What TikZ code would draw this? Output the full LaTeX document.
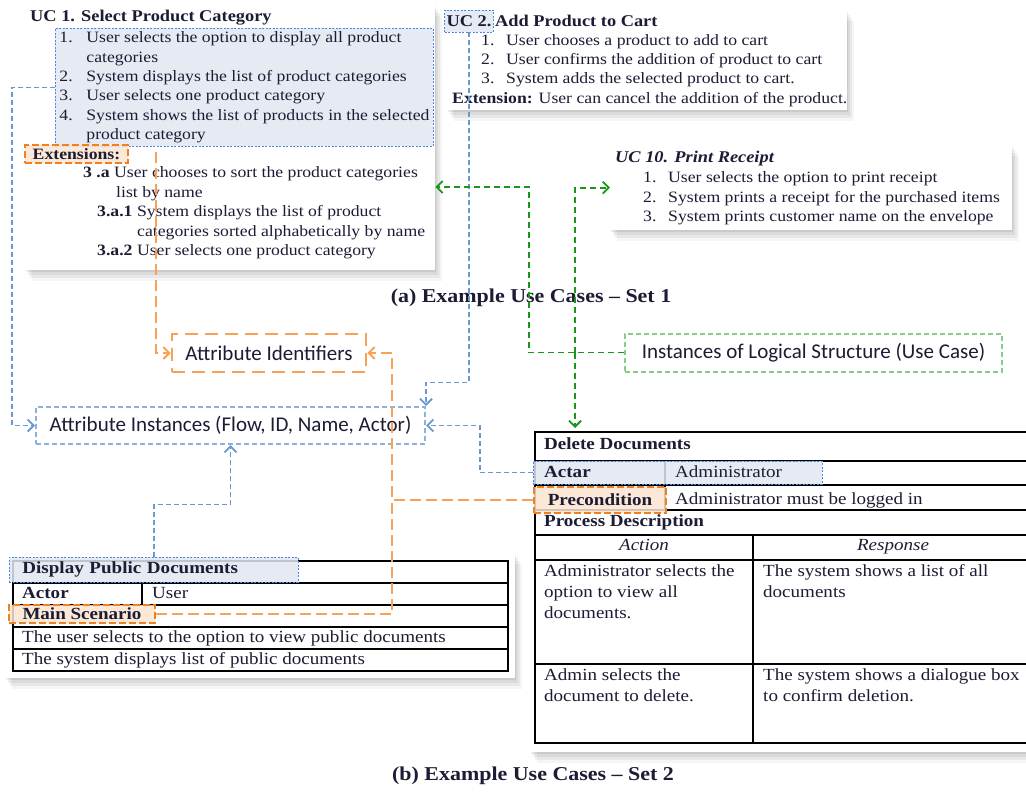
\documentclass[tikz,border=0pt]{standalone}
\usepackage{fontspec}
\setmainfont{Liberation Serif}[FakeStretch=1.12]
\newfontfamily\carlito{Carlito}
\usepackage{tikz}
\usetikzlibrary{positioning, arrows.meta, shadows, calc}
\definecolor{inkdark}{HTML}{1C1C34}
\definecolor{hlblue}{HTML}{4A86E8}
\definecolor{hlbluefill}{HTML}{E2E8F2}
\definecolor{linkblue}{HTML}{6A98D0}
\definecolor{boxblue}{HTML}{8DB2DE}
\definecolor{linkorange}{HTML}{F8A258}
\definecolor{hlorange}{HTML}{F08020}
\definecolor{hlorangefill}{HTML}{FCE4CF}
\definecolor{linkgreen}{HTML}{1A961A}
\definecolor{boxgreen}{HTML}{88CA88}
\newcommand{\ucfont}{\fontsize{15.8}{19.4}\selectfont}
\newcommand{\uctitlefont}{\fontsize{16.4}{20}\selectfont\bfseries}
\newcommand{\tabfont}{\fontsize{17}{21}\selectfont}
\newcommand{\capfont}{\fontsize{19.6}{24}\selectfont\bfseries}
\tikzstyle{usecase} = [rectangle, fill=white, anchor=north west, inner sep=0pt,
  drop shadow={shadow xshift=1pt, shadow yshift=-2pt, opacity=0.07, fill=black},
  drop shadow={shadow xshift=3pt, shadow yshift=-5pt, opacity=0.06, fill=black},
  drop shadow={shadow xshift=5pt, shadow yshift=-8pt, opacity=0.05, fill=black},
  drop shadow={shadow xshift=7pt, shadow yshift=-11pt, opacity=0.04, fill=black}]
\tikzstyle{bluehl} = [rectangle, draw=hlblue, fill=hlbluefill, fill opacity=0.85, text opacity=1, line width=0.9pt, dash pattern=on 2pt off 1.5pt]
\tikzstyle{orangehl} = [rectangle, draw=hlorange, fill=hlorangefill, fill opacity=0.85, text opacity=1, line width=2pt, dash pattern=on 7pt off 3pt]
\tikzstyle{attrbox} = [rectangle, fill=white, minimum height=38, font=\carlito\fontsize{21}{24}\selectfont, line width=2pt]
\tikzstyle{tabline} = [line width=1.3pt, black]
\tikzstyle{txt} = [anchor=base west, inner sep=0pt, align=left]
\tikzstyle{bluearrow} = [line width=1.8pt, draw=linkblue, dash pattern=on 5pt off 3pt, -{Straight Barb[length=6pt, width=12pt]}]
\tikzstyle{orangearrow} = [line width=2pt, draw=linkorange, dash pattern=on 11pt off 5pt, -{Straight Barb[length=6pt, width=12pt]}]
\tikzstyle{orangeline} = [line width=2pt, draw=linkorange, dash pattern=on 11pt off 5pt]
\tikzstyle{greenarrow} = [line width=1.8pt, draw=linkgreen, dash pattern=on 6pt off 4pt, -{Straight Barb[length=6pt, width=12pt]}]

\begin{document}
\begin{tikzpicture}[x=1pt, y=-1pt, every node/.append style={text=inkdark}]
\useasboundingbox [fill=white] (0,0) rectangle (1026,792);

% use cases, set 1
\node (uc1) [usecase, minimum width=410, minimum height=265] at (25,5) {};
\node (uc1title) [txt, font=\uctitlefont] at (30,21.5) {UC 1. Select Product Category};
\node (uc1steps) [bluehl, anchor=north west, minimum width=378, minimum height=117, inner xsep=2pt, align=left, font=\ucfont] at (55,28)
  {\makebox[27pt][l]{1.}User selects the option to display all product\\
   \hspace*{27pt}categories\\
   \makebox[27pt][l]{2.}System displays the list of product categories\\
   \makebox[27pt][l]{3.}User selects one product category\\
   \makebox[27pt][l]{4.}System shows the list of products in the selected\\
   \hspace*{27pt}product category};
\node (uc1ext) [orangehl, minimum width=103, minimum height=18, font=\ucfont\bfseries] at (76.5,154) {Extensions:};
% base of a multi-line node is its last line
\node (uc1extlist) [txt, font=\ucfont] at (83,255.5)
  {\textbf{3 .a} User chooses to sort the product categories\\
   \hspace*{33pt}list by name\\
   \hspace*{14pt}\textbf{3.a.1} System displays the list of product\\
   \hspace*{54pt}categories sorted alphabetically by name\\
   \hspace*{14pt}\textbf{3.a.2} User selects one product category};
\coordinate (extlink) at (156,152);

\node (uc2) [usecase, minimum width=400, minimum height=100] at (447,10) {};
\node (uc2id) [bluehl, minimum width=44, minimum height=22, inner xsep=2pt, font=\uctitlefont] at (469,21) {UC 2.};
\node (uc2name) [base right=0pt of uc2id, inner xsep=1pt, font=\uctitlefont] {Add Product to Cart};
\node (uc2steps) [txt, font=\ucfont] at (481,84)
  {\makebox[25pt][l]{1.}User chooses a product to add to cart\\
   \makebox[25pt][l]{2.}User confirms the addition of product to cart\\
   \makebox[25pt][l]{3.}System adds the selected product to cart.};
\node (uc2ext) [txt, font=\ucfont] at (452,103.5) {\textbf{Extension:} User can cancel the addition of the product.};

\node (uc10) [usecase, minimum width=402, minimum height=85] at (610,145) {};
\node (uc10title) [txt, font=\uctitlefont\itshape] at (615,162.5) {UC 10. Print Receipt};
\node (uc10steps) [txt, font=\ucfont] at (643,221.5)
  {\makebox[25pt][l]{1.}User selects the option to print receipt\\
   \makebox[25pt][l]{2.}System prints a receipt for the purchased items\\
   \makebox[25pt][l]{3.}System prints customer name on the envelope};

\node (capa) [font=\capfont] at (531,298) {(a) Example Use Cases -- Set 1};

% attribute boxes
\node (attrid) [attrbox, draw=linkorange, line width=2.5pt, dash pattern=on 13pt off 7pt, minimum width=194] at (269,353) {Attribute Identifiers};
\node (instances) [attrbox, draw=boxgreen, dash pattern=on 5pt off 3pt, minimum width=377] at (813.5,352.5) {Instances of Logical Structure (Use Case)};
\node (attrinst) [attrbox, draw=boxblue, dash pattern=on 5pt off 3pt, minimum width=389, minimum height=37] at (230.5,425.5) {Attribute Instances (Flow, ID, Name, Actor)};

% use cases, set 2
\node (dpd) [usecase, minimum width=510, minimum height=125] at (5,553) {};
\draw [tabline] (13,561) rectangle (508,671);
\foreach \y in {583,605,627,649} \draw [tabline] (13,\y) -- (508,\y);
\draw [tabline] (142,583) -- (142,605);
\node (dpdhead) [bluehl, anchor=west, minimum width=289, minimum height=25, text width=263, inner xsep=13pt, align=left, font=\tabfont\bfseries] at (9,569.5) {Display Public Documents};
\node (dpdactor) [txt, font=\tabfont\bfseries] at (22,598) {Actor};
\node (dpduser) [txt, font=\tabfont] at (152,598) {User};
\node (mainscen) [orangehl, anchor=west, minimum width=146, minimum height=18, inner xsep=4pt, font=\tabfont\bfseries] at (8,614) {Main Scenario};
\node (dpdrow1) [txt, font=\tabfont] at (22,642) {The user selects to the option to view public documents};
\node (dpdrow2) [txt, font=\tabfont] at (22,664.5) {The system displays list of public documents};

\node (deldoc) [usecase, minimum width=496, minimum height=324] at (530,428) {};
\draw [tabline] (1026,432) -- (535,432) -- (535,743) -- (1026,743);
\foreach \y in {461,485,510,535,560,664} \draw [tabline] (535,\y) -- (1026,\y);
\draw [tabline] (665,461) -- (665,510);
\draw [tabline] (753,535) -- (753,743);
\node (actar) [bluehl, anchor=west, minimum width=289, minimum height=23] at (533,472.5) {};
\node (precond) [orangehl, anchor=west, minimum width=132, minimum height=26, inner xsep=4pt, font=\tabfont\bfseries] at (533,499.5) {Precondition};
\node (deltitle) [txt, font=\tabfont\bfseries] at (544,449.5) {Delete Documents};
\node (actarkey) [txt, font=\tabfont\bfseries] at (544,477.5) {Actar};
\node (actarval) [txt, font=\tabfont] at (675,477.5) {Administrator};
\node (precondval) [txt, font=\tabfont] at (675,504) {Administrator must be logged in};
\node (procdesc) [txt, font=\tabfont\bfseries] at (544,526.5) {Process Description};
\node (actionhd) [anchor=base, inner sep=0pt, font=\tabfont\itshape] at (644,550) {Action};
\node (responsehd) [anchor=base, inner sep=0pt, font=\tabfont\itshape] at (893,550) {Response};
\node (action1) [txt, font=\tabfont] at (544,618) {Administrator selects the\\option to view all\\documents.};
\node (response1) [txt, font=\tabfont] at (763,597) {The system shows a list of all\\documents};
\node (action2) [txt, font=\tabfont] at (544,701) {Admin selects the\\document to delete.};
\node (response2) [txt, font=\tabfont] at (763,701) {The system shows a dialogue box\\to confirm deletion.};

\node (capb) [font=\capfont] at (533,776) {(b) Example Use Cases -- Set 2};

% connectors
\draw [bluearrow] (uc1steps.west) -- ++(-43,0) |- (attrinst.west);
\draw [bluearrow] (uc2id.south) -- ++(0,350) -| (attrinst.north east);
\draw [bluearrow] (dpdhead.north) -- ++(0,-52) -| (attrinst.south);
\draw [bluearrow] (actar.west) -- ++(-53,0) |- (attrinst.east);
\draw [orangearrow] (extlink) |- (attrid.west);
\draw [orangearrow] (precond.west) -- ++(-141,0) |- (attrid.east);
\draw [orangeline] (mainscen.east) -| ($(precond.west)+(-141,0)$);
\coordinate (gsplit) at ($(instances.west)+(-49,0)$);
\draw [greenarrow] (instances.west) -- ++(-95,0) |- ($(uc1.north east)+(0,182)$);
\draw [greenarrow] (gsplit) |- (uc10.west);
\draw [greenarrow] (gsplit) -- (gsplit |- deldoc.north);
\end{tikzpicture}
\end{document}
